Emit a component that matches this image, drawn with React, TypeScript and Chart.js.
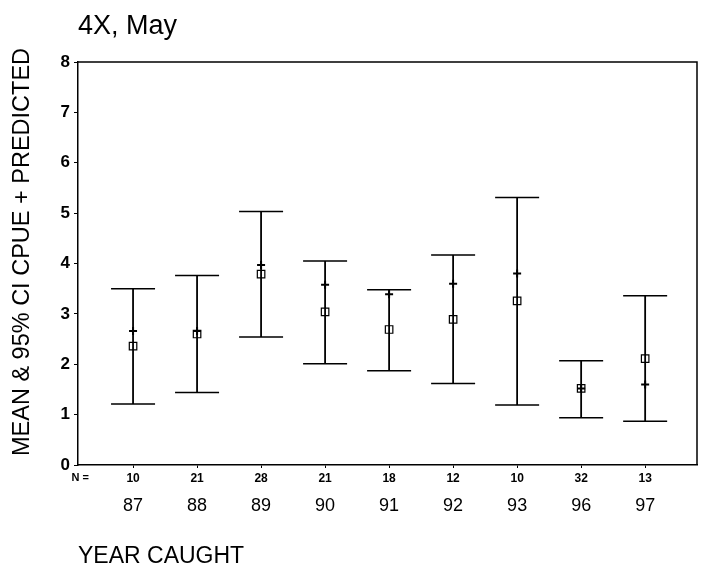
import React, { useEffect, useRef } from 'react';
import { Chart, registerables } from 'chart.js';

Chart.register(...registerables);

// Survey years and sample sizes
const years = ['87', '88', '89', '90', '91', '92', '93', '96', '97'];
const nCounts = [10, 21, 28, 21, 18, 12, 10, 32, 13];

// Mean CPUE with 95% confidence limits, and model-predicted CPUE
const meanCpue = [2.36, 2.6, 3.79, 3.04, 2.69, 2.89, 3.26, 1.52, 2.11];
const predictedCpue = [2.66, 2.66, 3.97, 3.58, 3.39, 3.6, 3.8, 1.52, 1.6];
const upperCi = [3.5, 3.76, 5.03, 4.05, 3.48, 4.17, 5.31, 2.07, 3.36];
const lowerCi = [1.21, 1.44, 2.54, 2.01, 1.87, 1.62, 1.19, 0.94, 0.87];

const yTicks = [0, 1, 2, 3, 4, 5, 6, 7, 8];

const FONT = '"Liberation Sans", Arial, Helvetica, sans-serif';
const CHART_TITLE = '4X, May';
const Y_TITLE = 'MEAN & 95% CI CPUE + PREDICTED';
const X_TITLE = 'YEAR CAUGHT';
const N_LABEL = 'N =';

const positions = years.map((_, i) => i);

// Vertical CI whiskers with caps, drawn under the point markers
const ciBars = {
  id: 'ciBars',
  beforeDatasetsDraw(chart: any) {
    const { ctx, scales } = chart;
    const xs = scales.x;
    const ys = scales.y;
    ctx.save();
    ctx.strokeStyle = '#000';
    positions.forEach((i) => {
      const px = xs.getPixelForValue(i);
      const top = ys.getPixelForValue(upperCi[i]);
      const bot = ys.getPixelForValue(lowerCi[i]);
      ctx.lineWidth = 1.8;
      ctx.beginPath();
      ctx.moveTo(px, top);
      ctx.lineTo(px, bot);
      ctx.stroke();
      ctx.lineWidth = 1.5;
      ctx.beginPath();
      ctx.moveTo(px - 22, top);
      ctx.lineTo(px + 22, top);
      ctx.moveTo(px - 22, bot);
      ctx.lineTo(px + 22, bot);
      ctx.stroke();
    });
    ctx.restore();
  },
};

// Plot frame, chart heading, "N =" row caption and rotated y-axis caption
const decorations = {
  id: 'decorations',
  afterDraw(chart: any) {
    const { ctx, chartArea, scales } = chart;
    ctx.save();
    ctx.strokeStyle = '#000';
    ctx.lineWidth = 1.5;
    ctx.beginPath();
    ctx.moveTo(chartArea.left, chartArea.top);
    ctx.lineTo(chartArea.right, chartArea.top);
    ctx.lineTo(chartArea.right, chartArea.bottom);
    ctx.stroke();

    ctx.fillStyle = '#000';
    ctx.font = `27px ${FONT}`;
    ctx.textAlign = 'left';
    ctx.textBaseline = 'alphabetic';
    ctx.fillText(CHART_TITLE, chartArea.left, 34);

    ctx.font = `bold 11px ${FONT}`;
    ctx.textAlign = 'right';
    ctx.textBaseline = 'middle';
    ctx.fillText(N_LABEL, chartArea.left + 11, scales.x.top + 13);

    ctx.translate(23, 252);
    ctx.rotate(-Math.PI / 2);
    ctx.font = `23.5px ${FONT}`;
    ctx.textAlign = 'center';
    ctx.textBaseline = 'middle';
    ctx.fillText(Y_TITLE, 0, 0);
    ctx.restore();
  },
};

export default function App() {
  const canvasRef = useRef<HTMLCanvasElement>(null);

  useEffect(() => {
    const canvas = canvasRef.current;
    if (!canvas) return;

    const setCategoryTicks = (scale: any) => {
      scale.ticks = positions.map((v) => ({ value: v }));
    };

    const chart = new Chart(canvas, {
      type: 'scatter',
      data: {
        datasets: [
          {
            label: 'Predicted',
            data: positions.map((i) => ({ x: i, y: predictedCpue[i] })),
            pointStyle: 'cross',
            pointRadius: 4,
            pointBorderWidth: 2,
            borderColor: '#000',
            backgroundColor: '#000',
            showLine: false,
          },
          {
            label: 'Mean',
            data: positions.map((i) => ({ x: i, y: meanCpue[i] })),
            pointStyle: 'rect',
            pointRadius: 5.3,
            pointBorderWidth: 1.2,
            borderColor: '#000',
            backgroundColor: 'rgba(0,0,0,0)',
            showLine: false,
          },
        ],
      },
      options: {
        responsive: false,
        animation: false,
        devicePixelRatio: 1,
        layout: { padding: { top: 62, right: 8, left: 0, bottom: 0 } },
        plugins: {
          legend: { display: false },
          tooltip: { enabled: false },
          title: { display: false },
        },
        scales: {
          x: {
            type: 'linear',
            position: 'bottom',
            weight: 1,
            min: -0.86,
            max: 8.81,
            afterBuildTicks: setCategoryTicks,
            afterFit: (s: any) => {
              s.height = 25;
            },
            ticks: {
              callback: (v: any) => String(nCounts[v as number] ?? ''),
              font: { family: FONT, size: 12, weight: 'bold' },
              color: '#000',
              padding: 3,
              maxRotation: 0,
              autoSkip: false,
            },
            grid: { drawOnChartArea: false, drawTicks: true, tickLength: 3, color: '#000' },
            border: { display: true, color: '#000', width: 1.5 },
          },
          x2: {
            type: 'linear',
            position: 'bottom',
            weight: 2,
            min: -0.86,
            max: 8.81,
            afterBuildTicks: setCategoryTicks,
            afterFit: (s: any) => {
              s.height = 84;
            },
            ticks: {
              callback: (v: any) => years[v as number] ?? '',
              font: { family: FONT, size: 18 },
              color: '#000',
              padding: 5,
              maxRotation: 0,
              autoSkip: false,
            },
            grid: { display: false, drawTicks: false, drawOnChartArea: false },
            border: { display: false },
            title: {
              display: true,
              text: X_TITLE,
              align: 'start',
              color: '#000',
              font: { family: FONT, size: 23 },
              padding: { top: 0, bottom: 4 },
            },
          },
          y: {
            type: 'linear',
            min: 0,
            max: 8,
            afterBuildTicks: (s: any) => {
              s.ticks = yTicks.map((v) => ({ value: v }));
            },
            afterFit: (s: any) => {
              s.width = 78;
            },
            ticks: {
              font: { family: FONT, size: 17, weight: 'bold' },
              color: '#000',
              padding: 4,
            },
            grid: { drawOnChartArea: false, drawTicks: true, tickLength: 4, color: '#000' },
            border: { display: true, color: '#000', width: 1.5 },
          },
        },
      },
      plugins: [ciBars, decorations],
    } as any);

    return () => chart.destroy();
  }, []);

  return (
    <div style={{ position: 'absolute', left: 0, top: 0, width: 705, height: 574, background: '#fff' }}>
      <canvas ref={canvasRef} width={705} height={574} style={{ display: 'block' }} />
    </div>
  );
}
